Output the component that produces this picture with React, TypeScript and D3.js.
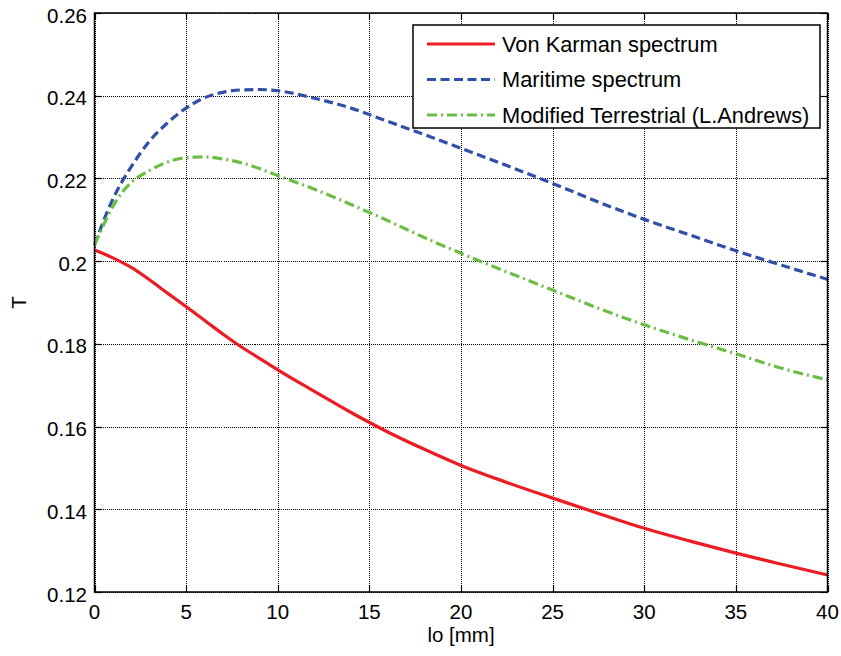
import React from "react";
import * as d3 from "d3";

const lo = [0, 0.5, 1, 1.5, 2, 3, 4, 5, 6, 7, 8, 9, 10, 12, 14, 16, 18, 20, 22.5, 25, 27.5, 30, 32.5, 35, 37.5, 40];
const vonKarman = [0.2027, 0.2018, 0.2008, 0.1997, 0.1985, 0.1955, 0.1922, 0.189, 0.1857, 0.1824, 0.1793, 0.1765, 0.1737, 0.1685, 0.1634, 0.1587, 0.1545, 0.1506, 0.1465, 0.1427, 0.139, 0.1354, 0.1323, 0.1294, 0.1267, 0.1241];
const maritime = [0.2039, 0.2098, 0.215, 0.2192, 0.2228, 0.229, 0.2335, 0.237, 0.2395, 0.2408, 0.2414, 0.2415, 0.2412, 0.2394, 0.237, 0.2338, 0.2306, 0.2273, 0.2231, 0.2188, 0.2143, 0.2101, 0.2063, 0.2025, 0.199, 0.1956];
const terrestrial = [0.204, 0.2088, 0.2132, 0.2166, 0.219, 0.2219, 0.224, 0.225, 0.2252, 0.2247, 0.2238, 0.2224, 0.2207, 0.2174, 0.2137, 0.2098, 0.2057, 0.2019, 0.1974, 0.193, 0.1886, 0.1846, 0.181, 0.1776, 0.1741, 0.1713];
const xTicks = [0, 5, 10, 15, 20, 25, 30, 35, 40];
const yTicks = [0.12, 0.14, 0.16, 0.18, 0.2, 0.22, 0.24, 0.26];
const seriesNames = ["Von Karman spectrum", "Maritime spectrum", "Modified Terrestrial (L.Andrews)"];

const W = 841, H = 656;
const L = 94.5, R = 827.5, T = 13, B = 592;
const FONT = "Liberation Sans, Arial, sans-serif";

const styles = [
  { color: "#ec1c24", dash: "" },
  { color: "#3050a8", dash: "9,4.5" },
  { color: "#6cbd45", dash: "10,4,2,4" },
];

export default function App() {
  const x = d3.scaleLinear().domain([0, 40]).range([L, R]);
  const y = d3.scaleLinear().domain([0.12, 0.26]).range([B, T]);
  const line = d3
    .line<number>()
    .x((_, i) => x(lo[i]))
    .y((d) => y(d))
    .curve(d3.curveMonotoneX);
  const data = [vonKarman, maritime, terrestrial];
  const tl = 7;
  const px = (v: number) => Math.round(v) + 0.5;
  return (
    <svg width={W} height={H} style={{ position: "absolute", left: 0, top: 0, background: "#fff" }} fontFamily={FONT}>
      <rect x={0} y={0} width={W} height={H} fill="#fff" />
      {/* grid */}
      {xTicks.map((t) => (
        <line key={"gx" + t} x1={px(x(t))} x2={px(x(t))} y1={T} y2={B} stroke="#000" strokeWidth={1} strokeDasharray="1,1" shapeRendering="crispEdges" />
      ))}
      {yTicks.map((t) => (
        <line key={"gy" + t} x1={L} x2={R} y1={px(y(t))} y2={px(y(t))} stroke="#000" strokeWidth={1} strokeDasharray="1,1" shapeRendering="crispEdges" />
      ))}
      {/* ticks */}
      {xTicks.map((t) => (
        <g key={"tx" + t}>
          <line x1={px(x(t))} x2={px(x(t))} y1={B} y2={B - tl} stroke="#000" strokeWidth={1.2} />
          <line x1={px(x(t))} x2={px(x(t))} y1={T} y2={T + tl} stroke="#000" strokeWidth={1.2} />
          <text x={x(t)} y={619} fontSize={20.5} textAnchor="middle" fill="#000">
            {t}
          </text>
        </g>
      ))}
      {yTicks.map((t) => (
        <g key={"ty" + t}>
          <line x1={L} x2={L + tl} y1={px(y(t))} y2={px(y(t))} stroke="#000" strokeWidth={1.2} />
          <line x1={R} x2={R - tl} y1={px(y(t))} y2={px(y(t))} stroke="#000" strokeWidth={1.2} />
          <text x={87} y={y(t) + 9.5} fontSize={20.5} textAnchor="end" fill="#000">
            {t === 0.2 ? "0.2" : t.toFixed(2)}
          </text>
        </g>
      ))}
      {/* series */}
      {data.map((d, i) => (
        <path key={"s" + i} d={line(d) || ""} fill="none" stroke={styles[i].color} strokeWidth={3.2} strokeDasharray={styles[i].dash || undefined} />
      ))}
      {/* box */}
      <rect x={L} y={T} width={R - L} height={B - T} fill="none" stroke="#000" strokeWidth={1.5} />
      {/* legend */}
      <rect x={413} y={25} width={407} height={103} fill="#fff" stroke="#000" strokeWidth={1.5} />
      {seriesNames.map((n, i) => {
        const cy = 44 + i * 35.5;
        return (
          <g key={"lg" + i}>
            <line x1={427} x2={495} y1={cy} y2={cy} stroke={styles[i].color} strokeWidth={3} strokeDasharray={styles[i].dash || undefined} />
            <text x={502} y={cy + 7.8} fontSize={21.8} fill="#000">
              {n}
            </text>
          </g>
        );
      })}
      {/* axis labels */}
      <text x={(L + R) / 2} y={642} fontSize={20.5} textAnchor="middle" fill="#000">
        lo [mm]
      </text>
      <text transform={`translate(26,${(T + B) / 2}) rotate(-90)`} fontSize={20.5} textAnchor="middle" fill="#000">
        T
      </text>
    </svg>
  );
}
